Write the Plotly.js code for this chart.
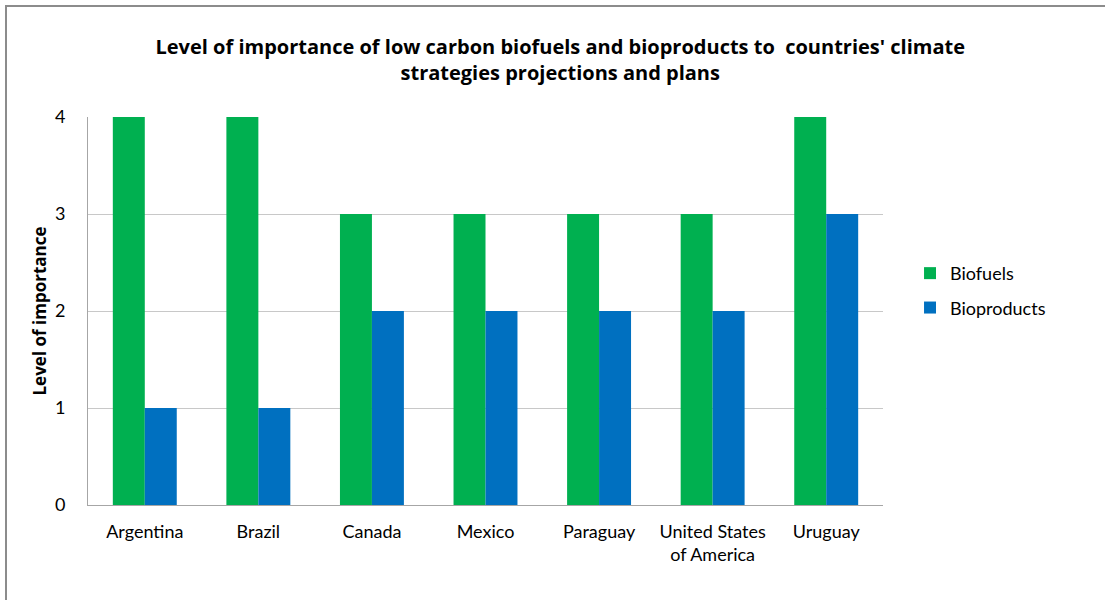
<!DOCTYPE html>
<html>
<head>
<meta charset="utf-8">
<script src="https://cdn.plot.ly/plotly-3.0.1.min.js"></script>
<style>
html,body{margin:0;padding:0;background:#fff;}
#wrap{position:relative;width:1105px;height:600px;overflow:hidden;}
#chart{position:absolute;left:0;top:0;width:1105px;height:600px;}
#frame{position:absolute;left:5px;top:5px;width:1200px;height:700px;border:2px solid #8c8c8c;pointer-events:none;}
</style>
</head>
<body>
<div id="wrap"><div id="chart"></div><div id="frame"></div></div>
<script>
const categories = ["Argentina","Brazil","Canada","Mexico","Paraguay","United States<br>of America","Uruguay"];
const biofuels = [4,4,3,3,3,3,4];
const bioproducts = [1,1,2,2,2,2,3];
const seriesNames = ["Biofuels","Bioproducts"];
const yTicks = [0,1,2,3,4];

const font = "Lato, 'Open Sans', sans-serif";
const data = [
  {type:'bar', name:seriesNames[0], legendgroup:'a', x:categories, y:biofuels, marker:{color:'#00B050'}},
  {type:'bar', name:seriesNames[1], legendgroup:'b', x:categories, y:bioproducts, marker:{color:'#0070C0'}}
];
const layout = {
  width:1105, height:600,
  paper_bgcolor:'rgba(0,0,0,0)', plot_bgcolor:'#fff',
  margin:{l:88, r:222, t:117, b:95},
  barmode:'group', bargap:0.437, bargroupgap:0,
  font:{family:font, size:18, color:'#000'},
  title:{text:"<b>Level of importance of low carbon biofuels and bioproducts to  countries' climate<br>strategies projections and plans</b>",
    x:0.507, xref:'container', xanchor:'center', y:1 - 54/600, yref:'container', yanchor:'middle',
    font:{family:"'Open Sans', sans-serif", size:20, color:'#000'}},
  xaxis:{type:'category', showline:true, linecolor:'#a6a6a6', linewidth:1,
    tickfont:{family:font, size:18}, ticks:'', showgrid:false, automargin:false,
    ticklabelstandoff:10},
  yaxis:{range:[0,4], tickvals:yTicks, showgrid:true, gridcolor:'#c8c8c8', gridwidth:1,
    showline:true, linecolor:'#a6a6a6', linewidth:1, zeroline:false,
    tickfont:{family:font, size:18}, ticks:'', ticklabelstandoff:18, automargin:false,
    title:{text:'<b>Level of importance</b>', font:{family:"'Open Sans', sans-serif", size:17}, standoff:3}},
  legend:{x:1.034, xanchor:'left', y:0.553, yanchor:'middle', font:{family:font, size:18},
    tracegroupgap:8, itemwidth:30, bgcolor:'rgba(0,0,0,0)'},
  showlegend:true
};
Plotly.newPlot('chart', data, layout, {displayModeBar:false, staticPlot:true});
</script>
</body>
</html>
